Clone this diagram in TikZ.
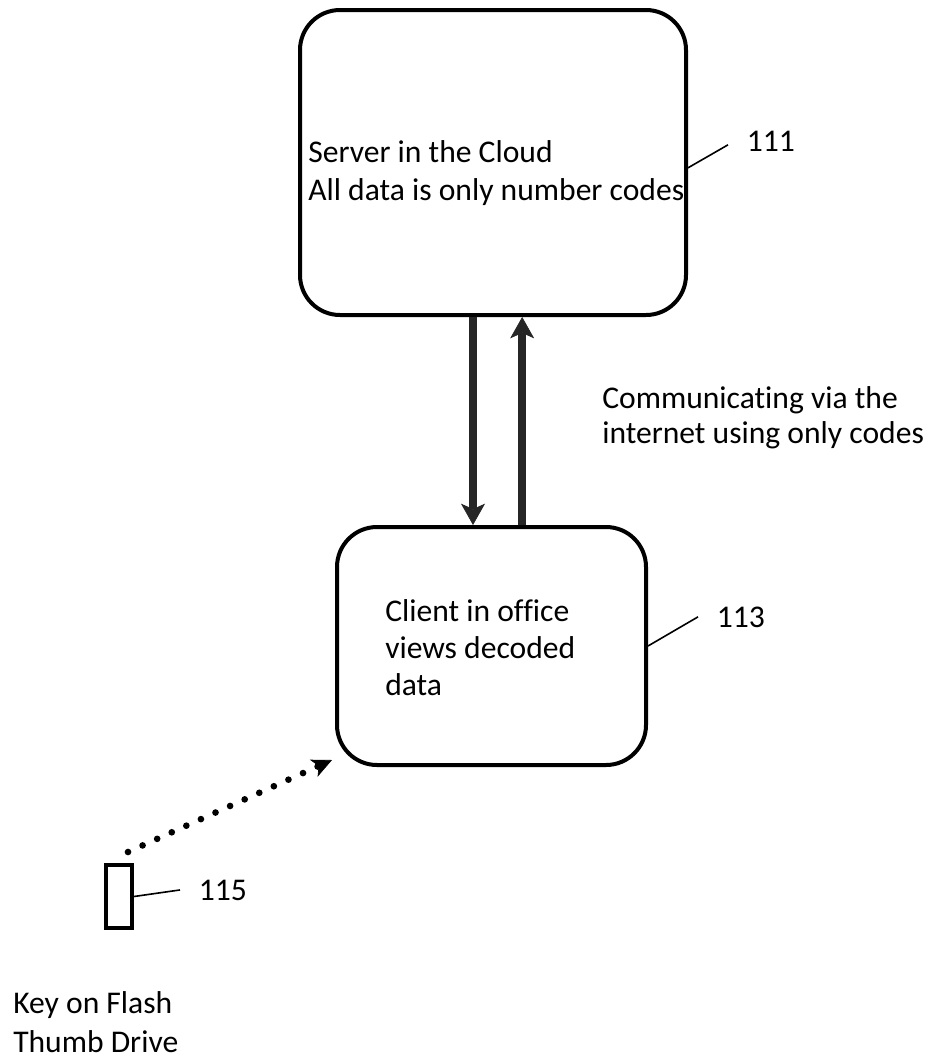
\documentclass[tikz,border=0pt]{standalone}
\usepackage{fontspec}
\setmainfont{Carlito}[Ligatures=NoCommon]
\usetikzlibrary{arrows.meta}

\tikzset{
  unit/.style={draw, line width=3pt, rounded corners=30pt},
  drive/.style={draw, line width=3pt},
  words/.style={font=\fontsize{23.7pt}{28.5pt}\selectfont, align=left, inner sep=0pt, anchor=base west},
  refnum/.style={font=\fontsize{23.7pt}{28.5pt}\selectfont, inner ysep=0pt, inner xsep=14pt, anchor=base west},
  leader/.style={line width=1.2pt},
  link/.style={line width=6pt, black!85, -{Stealth[length=16pt,width=18pt,inset=4pt,line width=0.5pt]}},
  dotline/.style={line width=5pt, line cap=round, dash pattern=on 0pt off 12pt,
    -{Stealth[length=15pt,width=14pt,inset=4pt,line width=0.5pt]}},
}

\begin{document}
\begin{tikzpicture}[x=0.75pt,y=-0.75pt]
\useasboundingbox (0,0) rectangle (932,1061);

\node[unit, minimum width=289.5pt, minimum height=228.75pt] (server) at (493,162.5) {};
\node[unit, minimum width=231.75pt, minimum height=178.5pt] (client) at (491.5,646) {};
\node[drive, minimum width=19.5pt, minimum height=47.25pt] (key) at (119,896.5) {};

% text blocks, placed by the baseline of their last line
\node[words] (servertext) at (308,200) {Server in the Cloud\\All data is only number codes};
\node[words, font=\fontsize{23.7pt}{27.4pt}\selectfont] (clienttext) at (385,695) {Client in office\\views decoded\\data};
\node[words, font=\fontsize{23.7pt}{26.25pt}\selectfont] (commtext) at (602,443) {Communicating via the\\internet using only codes};
\node[words, font=\fontsize{23.7pt}{29pt}\selectfont] (keytext) at (13,1052) {Key on Flash\\Thumb Drive};

\node[refnum] (lbl111) at (728,151) {111};
\node[refnum] (lbl113) at (698,627) {113};
\node[refnum] (lbl115) at (180,900) {115};

\draw[leader] ([yshift=-4pt]server.east) -- ([yshift=-3pt]lbl111.west);
\draw[leader] (client.east) -- (lbl113.west);
\draw[leader] (key.east) -- (lbl115.west);

\draw[link] ([xshift=-15pt]server.south) -- ([xshift=-15pt]server.south |- client.north);
\draw[link] ([xshift=23pt]client.north) -- ([xshift=23pt]client.north |- server.south);

\draw[dotline] ([shift={(-6,-11)}]key.north east) -- ([shift={(-3,-7)}]client.south west);

\end{tikzpicture}
\end{document}
